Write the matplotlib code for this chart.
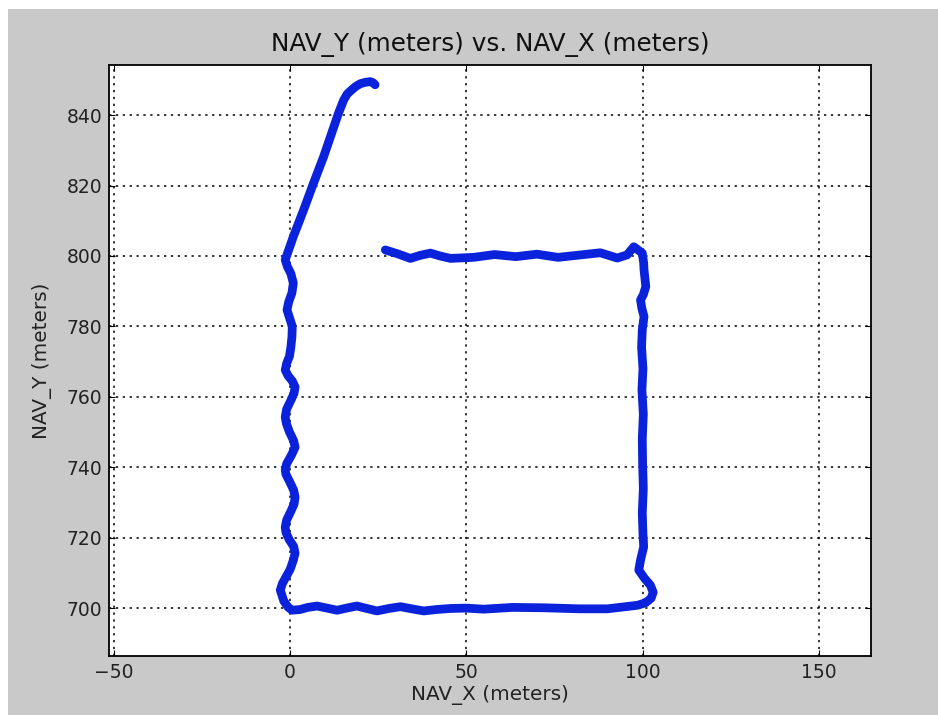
import matplotlib
matplotlib.use("Agg")
import matplotlib.pyplot as plt
from matplotlib.patches import Rectangle

# track points (meters)
# upper diagonal leg, from the end marker down to the corner
diag_x = [24.1, 23.5, 22.7, 21.3, 19.9, 18.7, 17.5, 16.2, 15.2, 13.7, 11.8,
          9.5, 6.6, 3.8, 0.9]
diag_y = [848.6, 849.2, 849.5, 849.3, 848.9, 848.2, 847.2, 846.0, 844.3,
          840.5, 834.9, 828.2, 820.6, 813.0, 805.5]
# left leg, going down
left_x = [-1.4, -0.8, 0.2, 0.9, 0.5, -0.4, -0.9, -0.2, 0.6, 0.5, 0.2, -0.2,
          -1.0, -1.4, -0.6, 0.6, 1.4, 1.1, 0.2, -1.0, -1.4, -1.1, -0.2, 1.0,
          1.4, 0.4, -1.0, -1.4, -1.2, -0.2, 1.0, 1.4, 1.1, 0.2, -1.0, -1.4,
          -1.2, -0.3, 1.0, 1.4, 0.9, 0.0, -1.2, -2.2, -2.8, -1.8, -0.6]
left_y = [798.9, 797.0, 795.0, 792.3, 789.5, 787.0, 784.7, 782.5, 780.0,
          777.0, 774.1, 771.5, 769.5, 767.6, 766.0, 764.5, 762.8, 761.0, 759.0,
          756.5, 754.3, 752.5, 750.0, 747.5, 745.7, 743.5, 741.0, 739.2, 738.0,
          736.0, 733.5, 731.5, 729.5, 727.5, 725.0, 723.0, 721.5, 719.5, 717.5,
          715.6, 713.6, 711.0, 708.8, 707.0, 705.1, 702.0, 700.3]
# bottom leg, going right
bottom_x = [0.5, 2.8, 5.0, 7.6, 10.5, 13.3, 16.0, 18.9, 21.8, 24.6, 28.0, 31.3,
            34.5, 37.9, 41.5, 45.5, 50.0, 54.9, 63.0, 71.9, 82.0, 90.0, 95.0]
bottom_y = [699.4, 699.6, 700.2, 700.6, 700.0, 699.4, 700.0, 700.6, 699.9,
            699.2, 699.9, 700.4, 699.8, 699.2, 699.6, 699.9, 700.0, 699.7,
            700.2, 700.1, 699.8, 699.8, 700.4]
# right leg with the bulge at the bottom, going up
right_x = [98.5, 100.8, 102.4, 103.0, 102.2, 100.5, 98.9, 99.4, 100.3, 100.1,
           99.9, 100.2, 100.0, 99.9, 100.2, 99.8, 100.1, 99.7, 99.9, 100.4,
           99.8, 99.4, 100.2, 100.9, 100.4, 100.3, 99.9]
right_y = [700.8, 701.5, 702.8, 704.5, 706.5, 708.5, 710.8, 713.6, 717.4,
           721.0, 727.0, 734.0, 741.0, 748.0, 755.0, 762.0, 768.0, 774.0,
           779.0, 782.8, 785.0, 787.5, 789.0, 791.3, 796.0, 798.0, 800.8]
# top leg, going left to the start
top_x = [97.5, 95.6, 92.8, 88.0, 82.4, 76.0, 70.0, 64.0, 58.0, 52.0, 45.5,
         42.5, 39.8, 37.0, 34.1, 30.5, 27.0]
top_y = [802.6, 800.3, 799.4, 800.9, 800.3, 799.6, 800.5, 799.8, 800.4,
         799.6, 799.3, 800.0, 800.8, 800.2, 799.3, 800.6, 801.7]

nav_x = diag_x + left_x + bottom_x + right_x + top_x
nav_y = diag_y + left_y + bottom_y + right_y + top_y

fig = plt.figure(figsize=(9.38, 7.15), dpi=100, facecolor='#c9c9c9')
# white strip along top and left edge of the screenshot
fig.patches.append(Rectangle((0, 0.9874), 1, 0.02, transform=fig.transFigure,
                             facecolor='white', edgecolor='none'))
fig.patches.append(Rectangle((0, 0), 0.0085, 1, transform=fig.transFigure,
                             facecolor='white', edgecolor='none'))

ax = fig.add_axes([0.1162, 0.0825, 0.8124, 0.8265])
ax.plot(nav_x, nav_y, color='#0a22dc', linewidth=6.3, solid_capstyle='round',
        solid_joinstyle='round')

ax.set_xlim(-51.4, 164.8)
ax.set_ylim(686.4, 854.2)
ax.set_xticks([-50, 0, 50, 100, 150])
ax.set_xticklabels(['\u221250', '0', '50', '100', '150'])
ax.set_yticks(range(700, 841, 20))
ax.grid(True, color='black', linestyle=(0, (1.5, 3)), linewidth=1.1)
ax.tick_params(direction='in', top=True, right=True, labelsize=13.5,
               length=4, pad=5, labelcolor='#222222')
for s in ax.spines.values():
    s.set_linewidth(1.3)

ax.set_title('NAV_Y (meters) vs. NAV_X (meters)', fontsize=17.8, pad=10,
             color='#111111')
ax.set_xlabel('NAV_X (meters)', fontsize=14.4, labelpad=2, color='#222222')
ax.set_ylabel('NAV_Y (meters)', fontsize=14.4, labelpad=10, color='#222222')

fig.savefig('out.png', dpi=100, facecolor=fig.get_facecolor())
